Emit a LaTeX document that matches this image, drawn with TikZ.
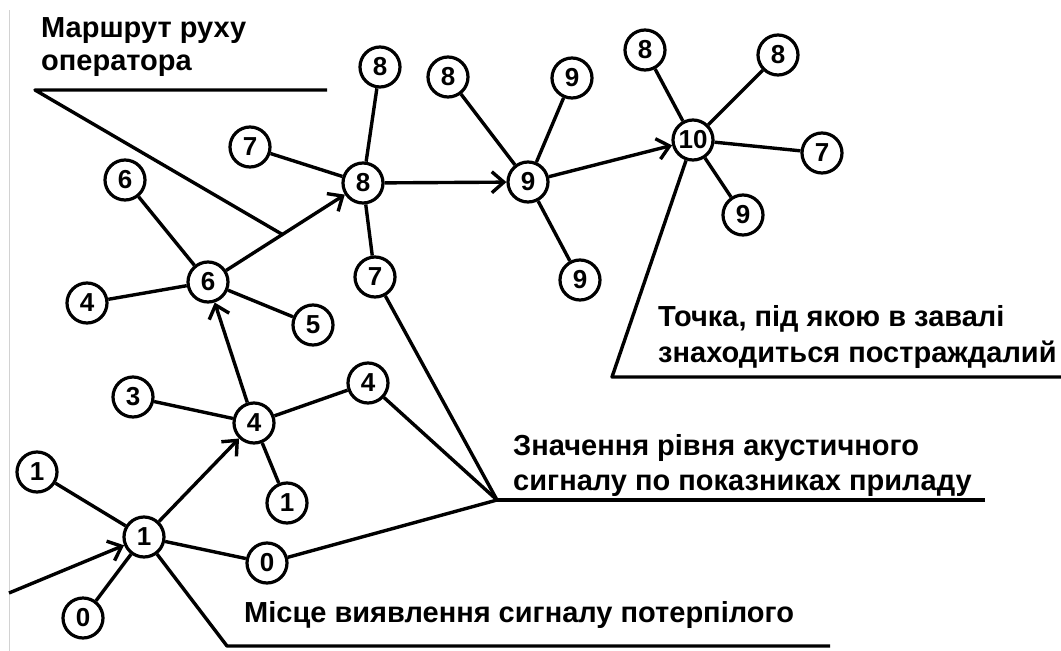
\documentclass[tikz,border=0pt]{standalone}
\usepackage{fontspec}
\setmainfont{Liberation Sans}
\usetikzlibrary{arrows.meta,calc}
\begin{document}
\begin{tikzpicture}[x=1pt,y=-1pt,
  v/.style={circle,draw,line width=3.2pt,minimum size=40pt,inner sep=0pt,
    font=\fontsize{26}{26}\selectfont\bfseries},
  e/.style={line width=3.4pt,line join=round},
  arr/.style={e,-{Straight Barb[length=12pt,width=21pt,line width=3.4pt]}},
  lbl/.style={anchor=base west,inner sep=0pt,font=\fontsize{29}{34}\selectfont\bfseries}]
\useasboundingbox[fill=white] (0,0) rectangle (1061,651);
\draw[gray!35,line width=1pt] (9,10) -- (9,651);
% nodes
\node[v] (a1) at (144,537) {1};
\node[v] (l1) at (37,472) {1};
\node[v] (z0) at (83,618) {0};
\node[v] (r0) at (267,563) {0};
\node[v] (n3) at (133,397) {3};
\node[v] (a4) at (254,423) {4};
\node[v] (r4) at (368,383) {4};
\node[v] (b1) at (287,503) {1};
\node[v] (a6) at (208,282) {6};
\node[v] (t6) at (125,180) {6};
\node[v] (l4) at (87,303) {4};
\node[v] (n5) at (313,325) {5};
\node[v] (a8) at (363,183) {8};
\node[v] (u7) at (250,147) {7};
\node[v] (t8) at (380,67) {8};
\node[v] (d7) at (375,277) {7};
\node[v] (l8) at (448,77) {8};
\node[v] (t9) at (572,78) {9};
\node[v] (a9) at (528,182) {9};
\node[v] (b9) at (580,280) {9};
\node[v] (a10) at (693,140) {10};
\node[v] (tl8) at (645,50) {8};
\node[v] (tr8) at (778,55) {8};
\node[v] (r7) at (822,153) {7};
\node[v] (bb9) at (743,215) {9};
% route arrows
\coordinate (in) at (9,593);
\draw[arr] (in) -- (a1);
\draw[arr] (a1) -- (a4);
\draw[arr] (a4) -- (a6);
\draw[arr] (a6) -- (a8);
\draw[arr] (a8) -- (a9);
\draw[arr] (a9) -- (a10);
% plain edges
\foreach \p/\q in {a1/l1,a1/z0,a1/r0,a4/n3,a4/r4,a4/b1,a6/t6,a6/l4,a6/n5,
  a8/u7,a8/t8,a8/d7,a9/l8,a9/t9,a9/b9,a10/tl8,a10/tr8,a10/r7,a10/bb9}
  \draw[e] (\p) -- (\q);
% labels
\node[lbl] (m1) at (41,37) {Маршрут руху};
\node[lbl] (m2) at (41,70) {оператора};
\node[lbl] (p1) at (658,326) {Точка, під якою в завалі};
\node[lbl] (p2) at (658,362) {знаходиться постраждалий};
\node[lbl] (s1) at (513,455) {Значення рівня акустичного};
\node[lbl] (s2) at (513,490) {сигналу по показниках приладу};
\node[lbl] (c1) at (244,622) {Місце виявлення сигналу потерпілого};
% leaders
\coordinate (mr) at ($(a6)!0.48!(a8)$);
\coordinate (mc) at (35,90);
\coordinate (me) at (327,90);
\draw[e] (me) -- (mc) -- (mr);
\coordinate (tc) at (612,377);
\coordinate (te) at (1061,377);
\draw[e] (te) -- (tc) -- (a10);
\coordinate (zj) at (497,500);
\coordinate (ze) at (985,500);
\draw[e] (ze) -- (zj);
\draw[e] (r4) -- (zj);
\draw[e] (d7) -- (zj);
\draw[e] (r0) -- (zj);
\coordinate (cc) at (227,646);
\coordinate (ce) at (830,646);
\draw[e] (ce) -- (cc) -- (a1);
\end{tikzpicture}
\end{document}
